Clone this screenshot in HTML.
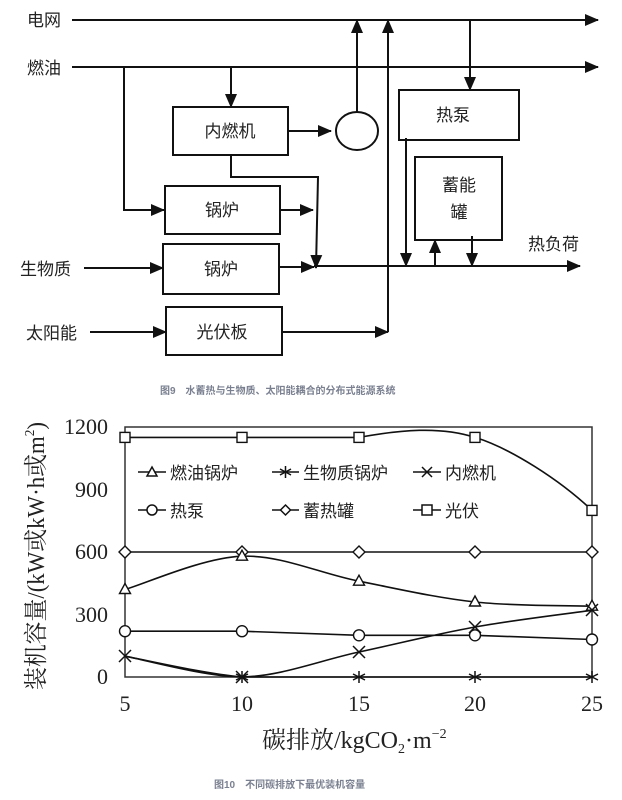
<!DOCTYPE html>
<html><head><meta charset="utf-8"><style>
html,body{margin:0;padding:0;background:#fff;}
svg{display:block;}
.cn{font-family:"Liberation Sans","Noto Sans CJK SC",sans-serif;}
.sf{font-family:"Liberation Serif","Noto Serif CJK SC",serif;}
</style></head><body>
<svg width="622" height="800" viewBox="0 0 622 800" xmlns="http://www.w3.org/2000/svg">
<defs>
<marker id="ar" markerUnits="userSpaceOnUse" markerWidth="14" markerHeight="12" refX="13" refY="6" orient="auto">
<path d="M0,0 L14,6 L0,12 z" fill="#111"/></marker>
</defs>
<g stroke="#111" stroke-width="2" fill="none">
<line x1="72" y1="20" x2="598" y2="20" marker-end="url(#ar)"/>
<line x1="72" y1="67" x2="598" y2="67" marker-end="url(#ar)"/>
<polyline points="124,67 124,210 164,210" marker-end="url(#ar)"/>
<line x1="231" y1="67" x2="231" y2="107" marker-end="url(#ar)"/>
<rect x="173" y="107" width="115" height="48"/>
<line x1="288" y1="131" x2="331" y2="131" marker-end="url(#ar)"/>
<ellipse cx="357" cy="131" rx="21" ry="19"/>
<line x1="357" y1="112" x2="357" y2="20" marker-end="url(#ar)"/>
<line x1="388" y1="332" x2="388" y2="20" marker-end="url(#ar)"/>
<line x1="470" y1="20" x2="470" y2="90" marker-end="url(#ar)"/>
<rect x="399" y="90" width="120" height="50"/>
<line x1="406" y1="138" x2="406" y2="266" marker-end="url(#ar)"/>
<rect x="415" y="157" width="87" height="83"/>
<line x1="435" y1="266" x2="435" y2="240" marker-end="url(#ar)"/>
<line x1="472" y1="236" x2="472" y2="266" marker-end="url(#ar)"/>
<line x1="314" y1="266" x2="580" y2="266" marker-end="url(#ar)"/>
<polyline points="231,155 231,177 318,177 316,268" marker-end="url(#ar)"/>
<rect x="165" y="186" width="115" height="48"/>
<line x1="280" y1="210" x2="313" y2="210" marker-end="url(#ar)"/>
<rect x="163" y="244" width="116" height="50"/>
<line x1="84" y1="268" x2="163" y2="268" marker-end="url(#ar)"/>
<line x1="279" y1="267" x2="314" y2="267" marker-end="url(#ar)"/>
<rect x="166" y="307" width="116" height="48"/>
<line x1="90" y1="332" x2="166" y2="332" marker-end="url(#ar)"/>
<line x1="282" y1="332" x2="388" y2="332" marker-end="url(#ar)"/>
</g>
<g class="cn" font-size="17" fill="#222">
<text x="27" y="26">电网</text>
<text x="27" y="74">燃油</text>
<text x="230" y="137" text-anchor="middle">内燃机</text>
<text x="453" y="121" text-anchor="middle">热泵</text>
<text x="459" y="191" text-anchor="middle">蓄能</text>
<text x="459" y="218" text-anchor="middle">罐</text>
<text x="528" y="250">热负荷</text>
<text x="222" y="216" text-anchor="middle">锅炉</text>
<text x="221" y="275" text-anchor="middle">锅炉</text>
<text x="20" y="275">生物质</text>
<text x="26" y="339">太阳能</text>
<text x="222" y="338" text-anchor="middle">光伏板</text>
</g>
<text class="cn" x="160" y="394" font-size="10" font-weight="bold" fill="#7a8090">图9　水蓄热与生物质、太阳能耦合的分布式能源系统</text>

<rect x="125" y="427" width="467" height="250" fill="none" stroke="#333" stroke-width="1.5"/>
<g class="sf" font-size="22" fill="#222" text-anchor="end">
<text x="108" y="434">1200</text>
<text x="108" y="497">900</text>
<text x="108" y="559">600</text>
<text x="108" y="622">300</text>
<text x="108" y="684">0</text>
</g>
<g class="sf" font-size="22" fill="#222" text-anchor="middle">
<text x="125" y="711">5</text>
<text x="242" y="711">10</text>
<text x="359" y="711">15</text>
<text x="475" y="711">20</text>
<text x="592" y="711">25</text>
</g>
<text class="sf" x="262" y="748" font-size="24" fill="#222">碳排放/kgCO<tspan font-size="14" dy="5">2</tspan><tspan dy="-5">·m</tspan><tspan font-size="14" dy="-10">−2</tspan></text>
<text class="sf" transform="translate(44,690) rotate(-90)" font-size="24" fill="#222" textLength="268" lengthAdjust="spacingAndGlyphs">装机容量/(kW或kW·h或m<tspan font-size="14" dy="-10">2</tspan><tspan dy="10">)</tspan></text>

<g stroke="#111" stroke-width="1.6" fill="none">
<path d="M125,437.4 L359,437.4 C400,430 440,426 475,437.4 C510,448 560,480 592,510.4"/>
<line x1="125" y1="552" x2="592" y2="552"/>
<path d="M125,589.5 C144.5,584 203,557.6 242,556.2 C281,554.8 320.2,573.6 359,581.2 C397.8,588.8 436.2,597.8 475,602 C513.8,606.2 572.5,605.5 592,606.2"/>
<polyline points="125,631.2 242,631.2 359,635.3 475,635.3 592,639.5"/>
<path d="M125,656.2 C144.5,659.7 203,676.3 242,677 C281,676.3 320.2,660.3 359,652 C397.8,643.7 436.2,634 475,627 C513.8,620 572.5,613 592,610.3"/>
<path d="M125,656.2 C144.5,659.7 203,673.5 242,677 L592,677"/>
</g>
<g stroke="#111" stroke-width="1.4" fill="#fff">
<rect x="120" y="432.4" width="10" height="10"/><rect x="237" y="432.4" width="10" height="10"/><rect x="354" y="432.4" width="10" height="10"/><rect x="470" y="432.4" width="10" height="10"/><rect x="587" y="505.4" width="10" height="10"/>
<path d="M125,546 l6,6 l-6,6 l-6,-6z"/><path d="M242,546 l6,6 l-6,6 l-6,-6z"/><path d="M359,546 l6,6 l-6,6 l-6,-6z"/><path d="M475,546 l6,6 l-6,6 l-6,-6z"/><path d="M592,546 l6,6 l-6,6 l-6,-6z"/>
<path d="M125,583.5 l5.5,10 h-11z"/><path d="M242,550.2 l5.5,10 h-11z"/><path d="M359,575.2 l5.5,10 h-11z"/><path d="M475,596 l5.5,10 h-11z"/><path d="M592,600.2 l5.5,10 h-11z"/>
<circle cx="125" cy="631.2" r="5.5"/><circle cx="242" cy="631.2" r="5.5"/><circle cx="359" cy="635.3" r="5.5"/><circle cx="475" cy="635.3" r="5.5"/><circle cx="592" cy="639.5" r="5.5"/>
</g>
<g stroke="#111" stroke-width="1.5">
<path d="M119,650 l12,12 M131,650 l-12,12"/><path d="M236,671 l12,12 M248,671 l-12,12"/><path d="M353,646 l12,12 M365,646 l-12,12"/><path d="M469,621 l12,12 M481,621 l-12,12"/><path d="M586,604 l12,12 M598,604 l-12,12"/>
<path d="M242,671 v12 M236,674 l12,6 M248,674 l-12,6"/><path d="M359,671 v12 M353,674 l12,6 M365,674 l-12,6"/><path d="M475,671 v12 M469,674 l12,6 M481,674 l-12,6"/><path d="M592,671 v12 M586,674 l12,6 M598,674 l-12,6"/>
</g>
<g stroke="#111" stroke-width="1.5" fill="#fff">
<line x1="138" y1="472" x2="166" y2="472"/><path d="M152,467 l5,9 h-10z"/>
<line x1="272" y1="472" x2="299" y2="472"/><path d="M285.5,466 v12 M280,469 l11,6 M291,469 l-11,6"/>
<line x1="413" y1="472" x2="441" y2="472"/><path d="M422,467 l10,10 M432,467 l-10,10"/>
<line x1="138" y1="510" x2="166" y2="510"/><circle cx="152" cy="510" r="5"/>
<line x1="272" y1="510" x2="299" y2="510"/><path d="M285.5,505 l5,5 l-5,5 l-5,-5z"/>
<line x1="413" y1="510" x2="441" y2="510"/><rect x="422" y="505" width="10" height="10"/>
</g>
<g class="cn" font-size="17" fill="#222">
<text x="170" y="479">燃油锅炉</text>
<text x="303" y="479">生物质锅炉</text>
<text x="445" y="479">内燃机</text>
<text x="170" y="517">热泵</text>
<text x="303" y="517">蓄热罐</text>
<text x="445" y="517">光伏</text>
</g>
<text class="cn" x="214" y="788" font-size="10" font-weight="bold" fill="#7a8090">图10　不同碳排放下最优装机容量</text>
</svg>
</body></html>
